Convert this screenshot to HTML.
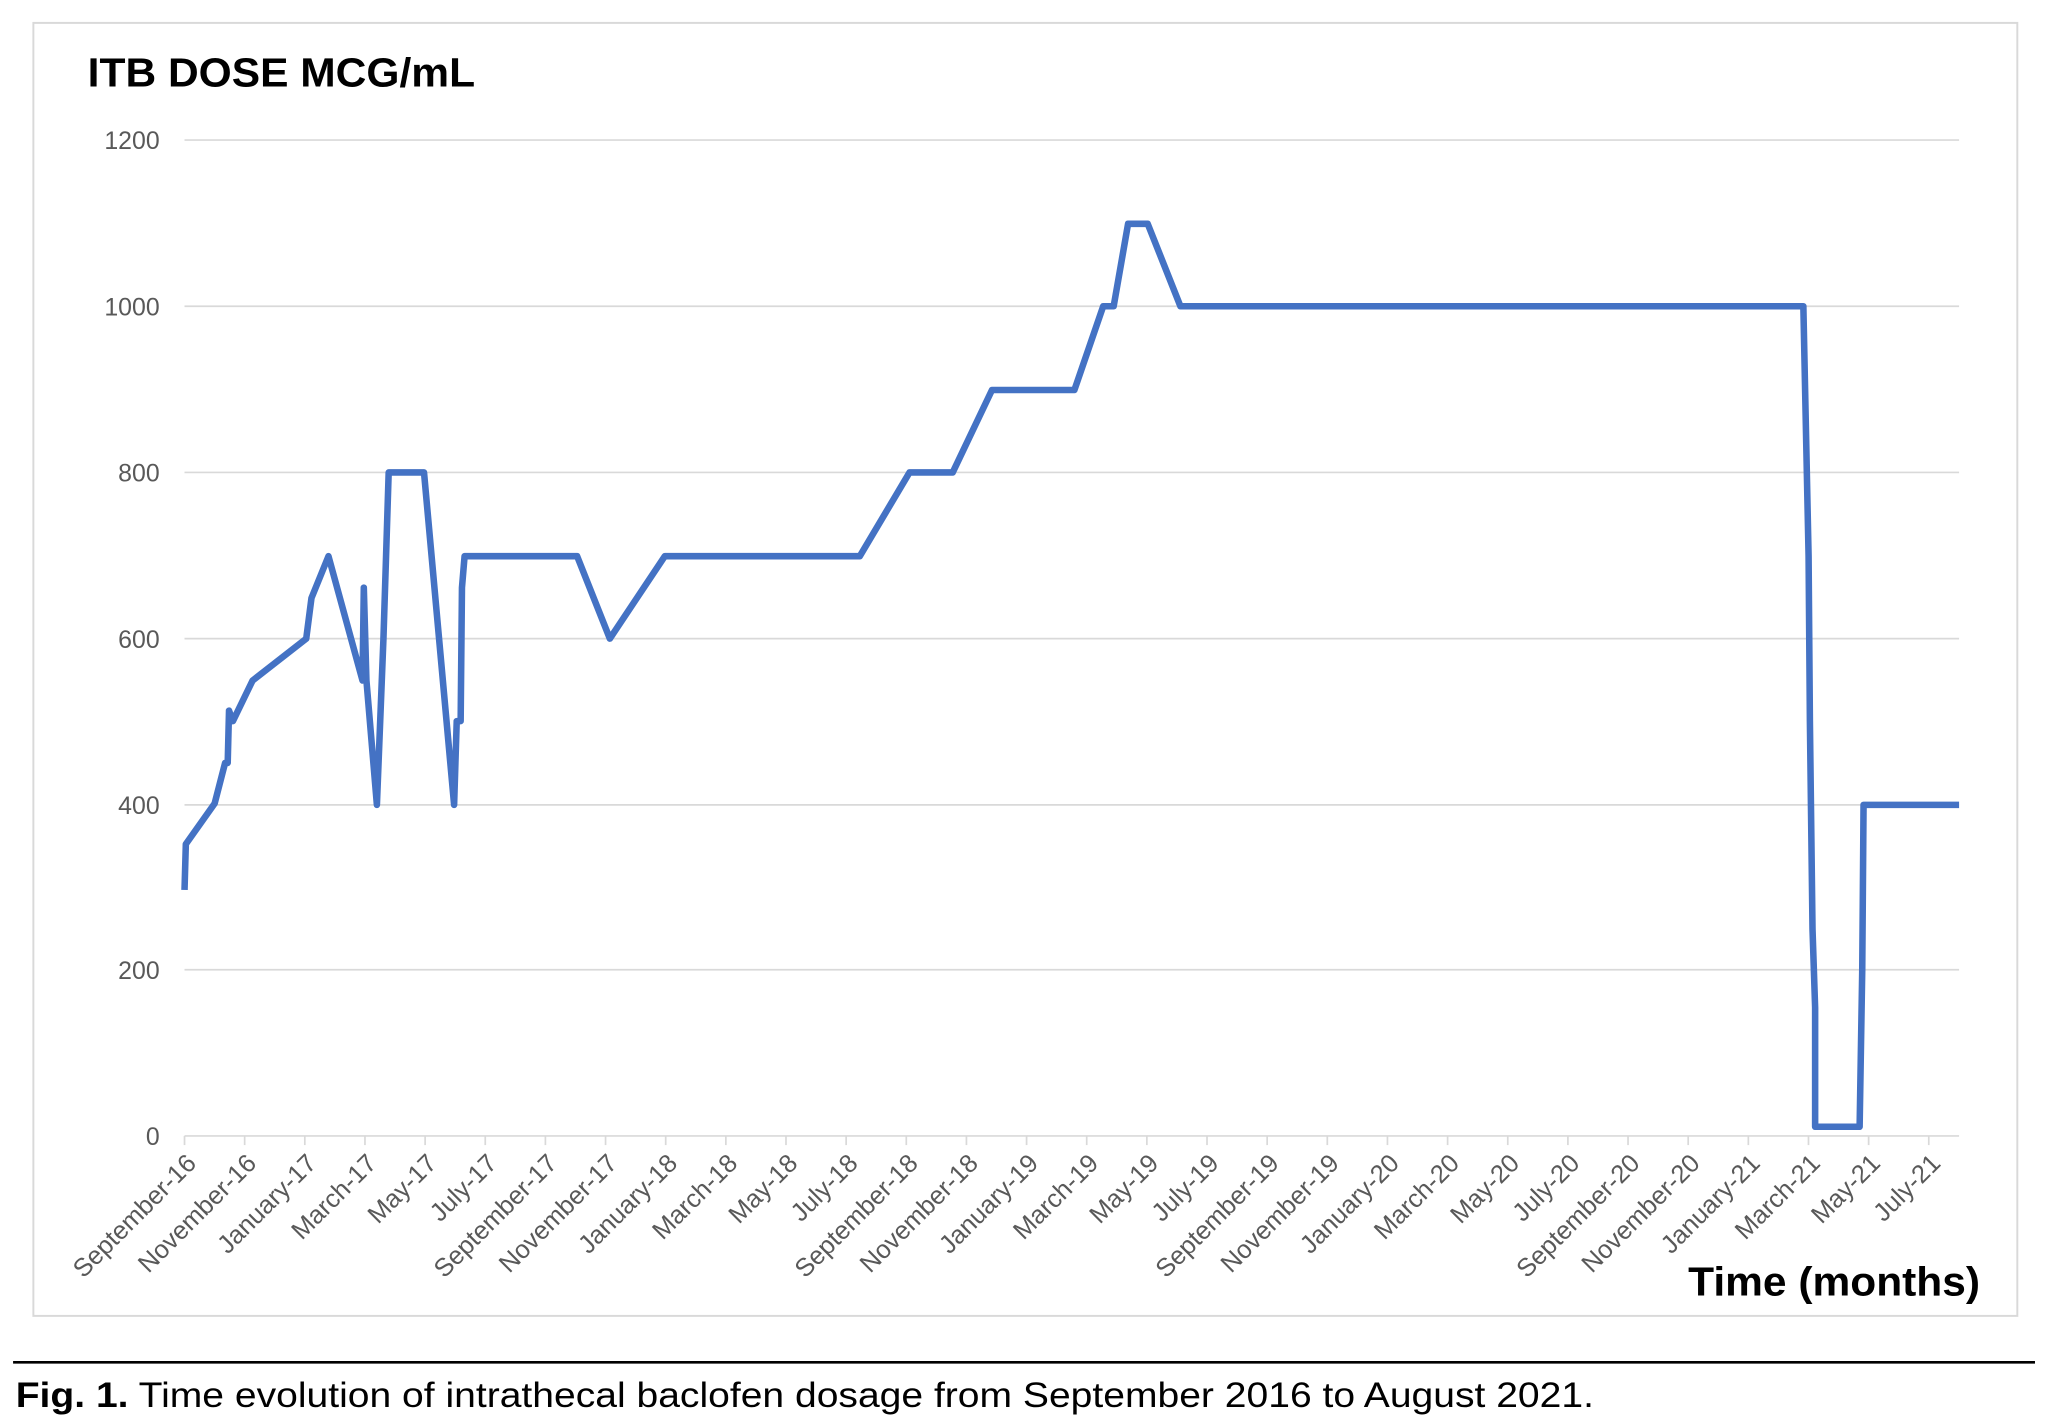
<!DOCTYPE html>
<html><head><meta charset="utf-8"><style>
html,body{margin:0;padding:0;background:#fff;}
svg{display:block;}
</style></head><body>
<svg width="2052" height="1427" viewBox="0 0 1568 1090.4" xmlns="http://www.w3.org/2000/svg">
<rect x="0" y="0" width="1568" height="1090.4" fill="#fff"/>
<rect x="25.5" y="17.5" width="1516" height="988" fill="#fff" stroke="#d9d9d9" stroke-width="1.5"/>
<text x="67" y="66" font-family="Liberation Sans, sans-serif" font-weight="bold" font-size="31" fill="#000" textLength="296" lengthAdjust="spacingAndGlyphs">ITB DOSE MCG/mL</text>
<g stroke="#d9d9d9" stroke-width="1.3">
<line x1="141" y1="107" x2="1497" y2="107"/>
<line x1="141" y1="234" x2="1497" y2="234"/>
<line x1="141" y1="361" x2="1497" y2="361"/>
<line x1="141" y1="488" x2="1497" y2="488"/>
<line x1="141" y1="615" x2="1497" y2="615"/>
<line x1="141" y1="741" x2="1497" y2="741"/>
<line x1="141" y1="868" x2="1497" y2="868"/>
</g>
<g font-family="Liberation Sans, sans-serif" font-size="19" fill="#595959" text-anchor="end">
<text x="122" y="114">1200</text>
<text x="122" y="241">1000</text>
<text x="122" y="368">800</text>
<text x="122" y="495">600</text>
<text x="122" y="622">400</text>
<text x="122" y="748">200</text>
<text x="122" y="875">0</text>
</g>
<g id="ticks" stroke="#d9d9d9" stroke-width="1.3"></g>
<g id="labels" font-family="Liberation Sans, sans-serif" font-size="19.5" fill="#595959" text-anchor="end"></g>
<polyline fill="none" stroke="#4472C4" stroke-width="5" stroke-linejoin="round" points="141,680 142,645 164,614 172,583 174,583 175,543 178,551 193,520 234,488 238,457 251,425 277,520 278,449 280,520 288,615 293,488 295,425 297,361 324,361 347,615 349,551 352,551 353,449 355,425 441,425 466,488 508,425 657,425 695,361 728,361 758,298 821,298 843,234 851,234 862,171 877,171 902,234 1378,234 1382,425 1383,551 1385,710 1387,770 1387,861 1421,861 1423,741 1424,615 1497,615"/>
<text x="1290" y="990" font-family="Liberation Sans, sans-serif" font-weight="bold" font-size="31" fill="#000" textLength="223" lengthAdjust="spacingAndGlyphs">Time (months)</text>
<line x1="10" y1="1041" x2="1555" y2="1041" stroke="#000" stroke-width="2"/>
<text x="12" y="1075" font-family="Liberation Sans, sans-serif" font-size="27" fill="#000" textLength="1206" lengthAdjust="spacingAndGlyphs"><tspan font-weight="bold">Fig. 1.</tspan> Time evolution of intrathecal baclofen dosage from September 2016 to August 2021.</text>
</svg>
<script>
var names=["September-16","November-16","January-17","March-17","May-17","July-17","September-17","November-17","January-18","March-18","May-18","July-18","September-18","November-18","January-19","March-19","May-19","July-19","September-19","November-19","January-20","March-20","May-20","July-20","September-20","November-20","January-21","March-21","May-21","July-21"];
var NS="http://www.w3.org/2000/svg",t=document.getElementById("ticks"),l=document.getElementById("labels");
for(var k=0;k<names.length;k++){var x=141+k*45.96;
var ln=document.createElementNS(NS,"line");ln.setAttribute("x1",x);ln.setAttribute("x2",x);ln.setAttribute("y1",868);ln.setAttribute("y2",875);t.appendChild(ln);
var tx=document.createElementNS(NS,"text");tx.setAttribute("transform","translate("+(x+10)+",890) rotate(-45)");tx.textContent=names[k];l.appendChild(tx);}
</script>
</body></html>
